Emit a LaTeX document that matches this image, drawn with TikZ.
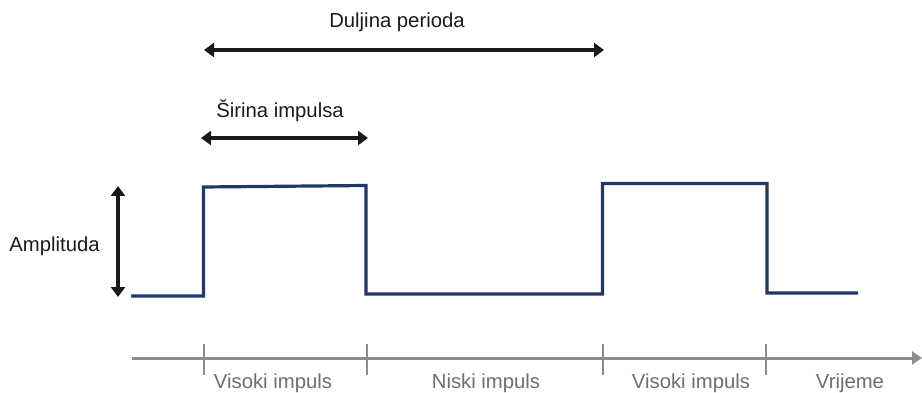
\documentclass[tikz,border=0pt]{standalone}
\usepackage{fontspec}
\setmainfont{Liberation Sans}
\usetikzlibrary{arrows.meta}
\definecolor{wave}{HTML}{1F3864}
\definecolor{axisgray}{HTML}{8C8C8C}
\definecolor{labelgray}{HTML}{6E6E6E}
\definecolor{ink}{HTML}{1A1A1A}
\begin{document}
\begin{tikzpicture}[x=1pt,y=-1pt,
  wavestyle/.style={draw=wave,line width=3.2pt,line join=miter},
  dimarrow/.style={draw=ink,line width=3.2pt,{Triangle[width=14pt,length=10pt]}-{Triangle[width=14pt,length=10pt]}},
  axisline/.style={draw=axisgray,line width=3pt},
  tickline/.style={draw=axisgray,line width=2.8pt},
  toplabel/.style={font=\fontsize{20.3}{24}\selectfont,text=ink,inner sep=0pt},
  axislabel/.style={font=\fontsize{20.3}{24}\selectfont,text=labelgray,inner sep=0pt}]
\useasboundingbox (0,0) rectangle (922,393);
% waveform corner points
\coordinate (w0) at (131,296);
\coordinate (w1) at (203.5,296);
\coordinate (w2) at (203.5,187);
\coordinate (w3) at (366,185.5);
\coordinate (w4) at (366,294);
\coordinate (w5) at (602.5,294);
\coordinate (w6) at (602.5,183.5);
\coordinate (w7) at (767,183.5);
\coordinate (w8) at (767,293);
\coordinate (w9) at (858,293);
\draw[wavestyle] (w0) -- (w1) -- (w2) -- (w3) -- (w4) -- (w5) -- (w6) -- (w7) -- (w8) -- (w9);
% amplitude
\coordinate (a1) at (118,186);
\coordinate (a2) at (118,297);
\draw[dimarrow] (a1) -- (a2);
\node[toplabel] (amp) at (54.5,246) {Amplituda};
% period
\coordinate (p1) at (204,50);
\coordinate (p2) at (604,50);
\draw[dimarrow] (p1) -- (p2);
\node[toplabel] (per) at (397,22) {Duljina perioda};
% pulse width
\coordinate (s1) at (201,138);
\coordinate (s2) at (368,138);
\draw[dimarrow] (s1) -- (s2);
\node[toplabel] (sir) at (280,111) {Širina impulsa};
% time axis
\coordinate (t0) at (132,358);
\coordinate (t1) at (922,358);
\draw[axisline,-{Triangle[width=13pt,length=10pt]}] (t0) -- (t1);
\foreach \x/\n in {204/k1,367/k2,603/k3,766/k4}{
  \coordinate (\n a) at (\x,344);
  \coordinate (\n b) at (\x,375);
  \draw[tickline] (\n a) -- (\n b);
}
\node[axislabel] (l1) at (273,383) {Visoki impuls};
\node[axislabel] (l2) at (486,383) {Niski impuls};
\node[axislabel] (l3) at (691,383) {Visoki impuls};
\node[axislabel] (l4) at (850,383) {Vrijeme};
\end{tikzpicture}
\end{document}
